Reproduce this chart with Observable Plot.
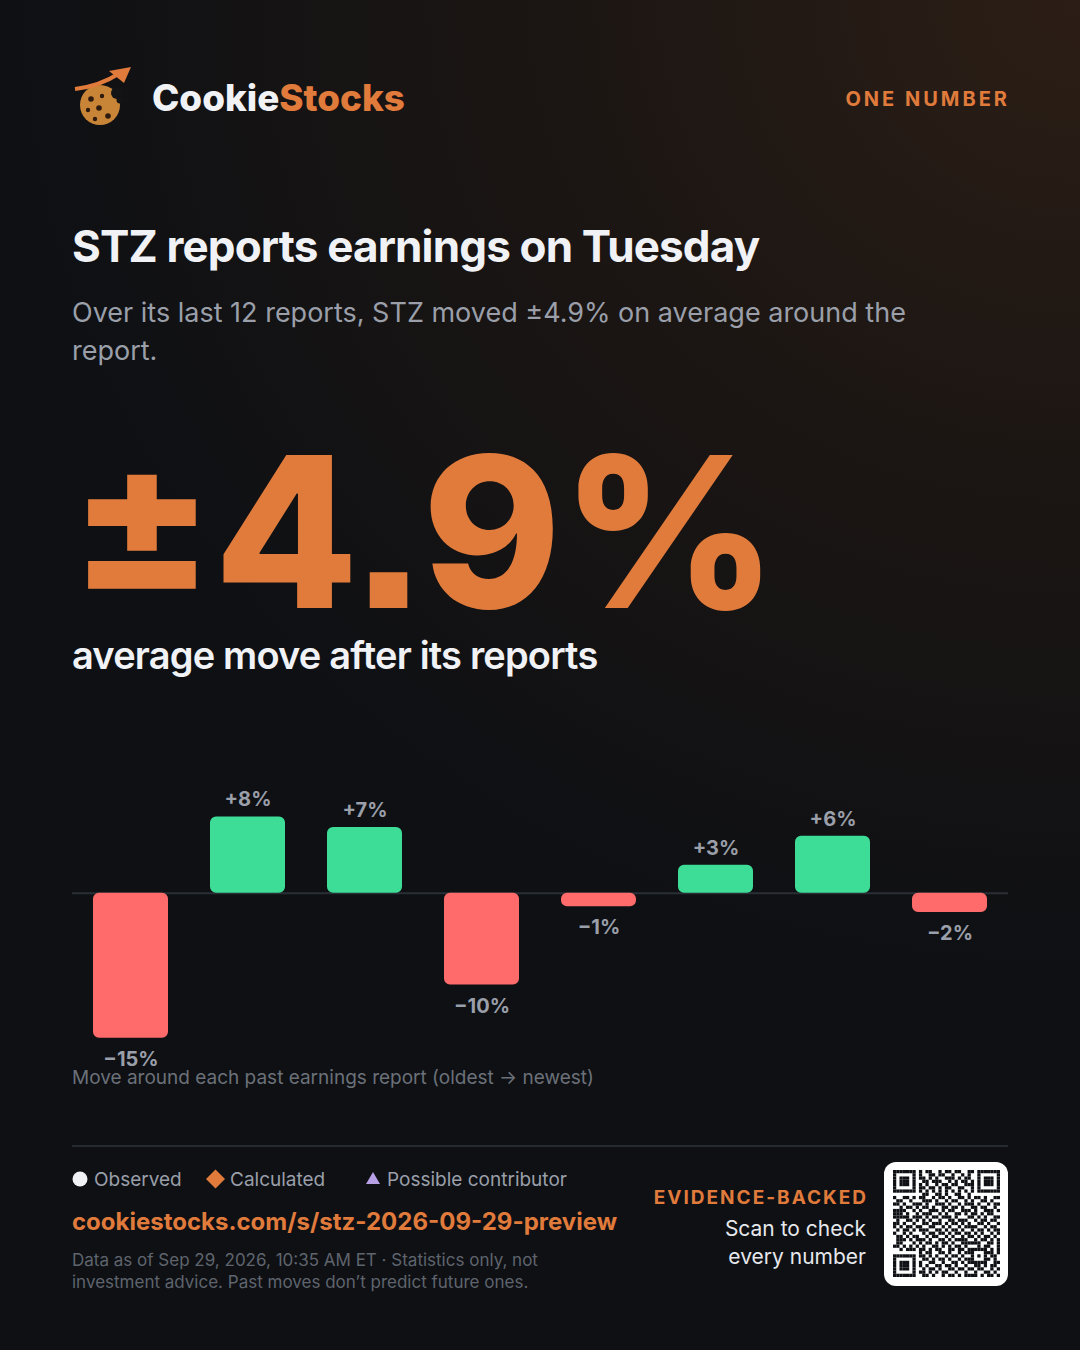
<!DOCTYPE html>
<html><head><meta charset="utf-8">
<script src="https://cdn.jsdelivr.net/npm/d3@7"></script>
<script src="https://cdn.jsdelivr.net/npm/@observablehq/plot@0.6"></script>
<style>
html,body{margin:0;padding:0;background:#0e1014}
#page{position:relative;width:1080px;height:1350px;overflow:hidden;font-family:Inter,sans-serif;
background:radial-gradient(ellipse 1100px 1000px at 100% 0%,#2c1e16 0%,#1c1613 45%,#0e1014 100%)}
.t{position:absolute;white-space:pre;margin:0}
#chart{position:absolute;left:72px;top:770px}
#chart svg{display:block;overflow:visible;background:transparent}
#qr{position:absolute;left:892.5px;top:1170px}
#qr svg{display:block;background:transparent}
</style></head><body>
<div id="page">
<svg style="position:absolute;left:72px;top:64px" width="62" height="66" viewBox="0 0 62 66">
<circle cx="28" cy="41" r="20" fill="#c98537"/>
<circle cx="45" cy="29" r="6" fill="#131214"/><circle cx="48" cy="36" r="3.500" fill="#131214"/>
<path d="M3 25 Q28 22 48 9" stroke="#e07b3c" stroke-width="4" fill="none"/>
<path d="M37 7 L59 3 L52 19Z" fill="#e07b3c"/>
<g fill="#2e1a0e"><circle cx="19" cy="35" r="2.800"/><circle cx="30" cy="32" r="2.200"/><circle cx="27" cy="44" r="2.800"/><circle cx="16" cy="46" r="2.200"/><circle cx="23" cy="55" r="2.200"/><circle cx="36" cy="52" r="2.800"/></g>
</svg>
<div class="t" style="left:152px;top:75.500px;font-size:36.800px;font-weight:800;color:#f0f2f6;line-height:44px">Cookie<span style="color:#e07b3c">Stocks</span></div>
<div class="t" style="right:70px;top:87px;font-size:20px;font-weight:700;color:#e07b3c;letter-spacing:3px;line-height:24px">ONE NUMBER</div>
<div class="t" style="left:72px;top:219px;font-size:44px;font-weight:700;color:#f0f2f6;line-height:54px;letter-spacing:-0.84px">STZ reports earnings on Tuesday</div>
<div class="t" style="left:72px;top:294px;font-size:27px;font-weight:400;color:#9a9fa9;line-height:38px">Over its last 12 reports, STZ moved ±4.9% on average around the
report.</div>
<div class="t" style="left:70px;top:412px;font-size:210px;font-weight:800;font-feature-settings:'ss07';color:#e07b3c;line-height:240px;letter-spacing:0">±4.9%</div>
<div class="t" style="left:72px;top:632px;font-size:38px;font-weight:600;color:#f0f2f6;line-height:46px;letter-spacing:-0.82px">average move after its reports</div>
<div id="chart"></div>
<div class="t" style="left:72px;top:1065px;font-size:19px;color:#6b7079;line-height:26px">Move around each past earnings report (oldest → newest)</div>
<div style="position:absolute;left:72px;top:1145px;width:936px;height:2px;background:#262b32"></div>
<svg style="position:absolute;left:72px;top:1168px" width="320" height="24">
<circle cx="8" cy="11" r="7.500" fill="#f0f2f6"/>
<path d="M143.500 1.500 L153 11 L143.500 20.500 L134 11Z" fill="#e07b3c"/>
<path d="M301 4 L308 16 L294 16Z" fill="#b8a0e6"/>
</svg>
<div class="t" style="left:94px;top:1167px;font-size:19px;color:#9a9fa9;line-height:26px">Observed</div>
<div class="t" style="left:230px;top:1167px;font-size:19px;color:#9a9fa9;line-height:26px">Calculated</div>
<div class="t" style="left:387px;top:1167px;font-size:19px;color:#9a9fa9;line-height:26px">Possible contributor</div>
<div class="t" style="left:72px;top:1206px;font-size:24px;font-weight:700;color:#e07b3c;line-height:32px">cookiestocks.com/s/stz-2026-09-29-preview</div>
<div class="t" style="left:72px;top:1249px;font-size:17px;color:#5f646d;line-height:22px">Data as of Sep 29, 2026, 10:35 AM ET · Statistics only, not
investment advice. Past moves don’t predict future ones.</div>
<div class="t" style="right:212px;top:1185px;font-size:19px;font-weight:700;color:#e07b3c;letter-spacing:2px;line-height:26px">EVIDENCE-BACKED</div>
<div class="t" style="right:214px;top:1215px;font-size:21px;color:#e6e8ec;line-height:28px;text-align:right">Scan to check
every number</div>
<div style="position:absolute;left:884px;top:1162px;width:124px;height:124px;background:#fff;border-radius:12px"></div>
<div id="qr"></div>
</div>
<script>
const reports = ["r1","r2","r3","r4","r5","r6","r7","r8"];
const moves = [-15,7.9,6.8,-9.5,-1.4,2.9,5.9,-2];
const qrRows = [
"111111101011001011011001101111111",
"100000101001101100100101001000001",
"101110101101010011101011001011101",
"101110100110111001010110101011101",
"101110101010010110110011101011101",
"100000101101101011001100101000001",
"111111101010101010101010101111111",
"000000000110011010011001000000000",
"100110101100101101001101011010011",
"011001000111010010110010100110100",
"110100111010011101001011101001011",
"001011010110100110110100110110010",
"111100101001110101100111010011101",
"111010010111001010011010110101100",
"111110111010110111010001101010011",
"010011010101001001101110010110110",
"110100100110111010110101001101001",
"101011011001100101001011110010110",
"010110101110011010110100101101011",
"100101000101101101011011010100101",
"011010110010110010100101101011010",
"011101011101001101011110010110101",
"011000101011010110100111111001101",
"110101010100110101011010001011001",
"001011101101011001101101111110101",
"000000001011001101001011100011101",
"111111101101010010110100101010110",
"100000100110101101001011100011010",
"101110101001100100110101111110011",
"101110101010011011010010011010110",
"101110100101101001101101101100101",
"100000101101010110010010010011010",
"111111100110100101101011110101101"
];
const rows = reports.map((r,i)=>({report:r,move:moves[i]}));
const label = d3.format("+.0f");
const chart = Plot.plot({
  width:936,height:320,marginLeft:0,marginRight:0,marginTop:0,marginBottom:0,
  style:{background:"transparent",fontFamily:"Inter,sans-serif"},
  x:{type:"band",domain:reports,range:[0,936],paddingInner:0.36,paddingOuter:0.18,axis:null},
  y:{domain:[-20.4,12.7],range:[320,0],axis:null},
  marks:[
    Plot.ruleY([0],{stroke:"#2a2f36",strokeWidth:2}),
    Plot.barY(rows,{x:"report",y:"move",fill:d=>d.move>=0?"#3ddc97":"#ff6b6b",r:6}),
    Plot.text(rows,{x:"report",y:"move",text:d=>label(d.move)+"%",
      dy:21,filter:d=>d.move<0,fill:"#9a9fa9",fontSize:20,fontWeight:700}),
    Plot.text(rows,{x:"report",y:"move",text:d=>label(d.move)+"%",
      dy:-17,filter:d=>d.move>=0,fill:"#9a9fa9",fontSize:20,fontWeight:700})
  ]
});
document.getElementById("chart").append(chart);
const qrCells = qrRows.flatMap((s,r)=>[...s].map((v,c)=>({r,c,v}))).filter(d=>d.v==="1");
const qr = Plot.plot({
  width:107,height:107,margin:0,
  style:{background:"transparent"},
  x:{type:"band",domain:d3.range(33),padding:0,round:false,axis:null},
  y:{type:"band",domain:d3.range(33),padding:0,round:false,axis:null},
  marks:[Plot.cell(qrCells,{x:"c",y:"r",fill:"#0e1014"})]
});
document.getElementById("qr").append(qr);
</script>
</body></html>
